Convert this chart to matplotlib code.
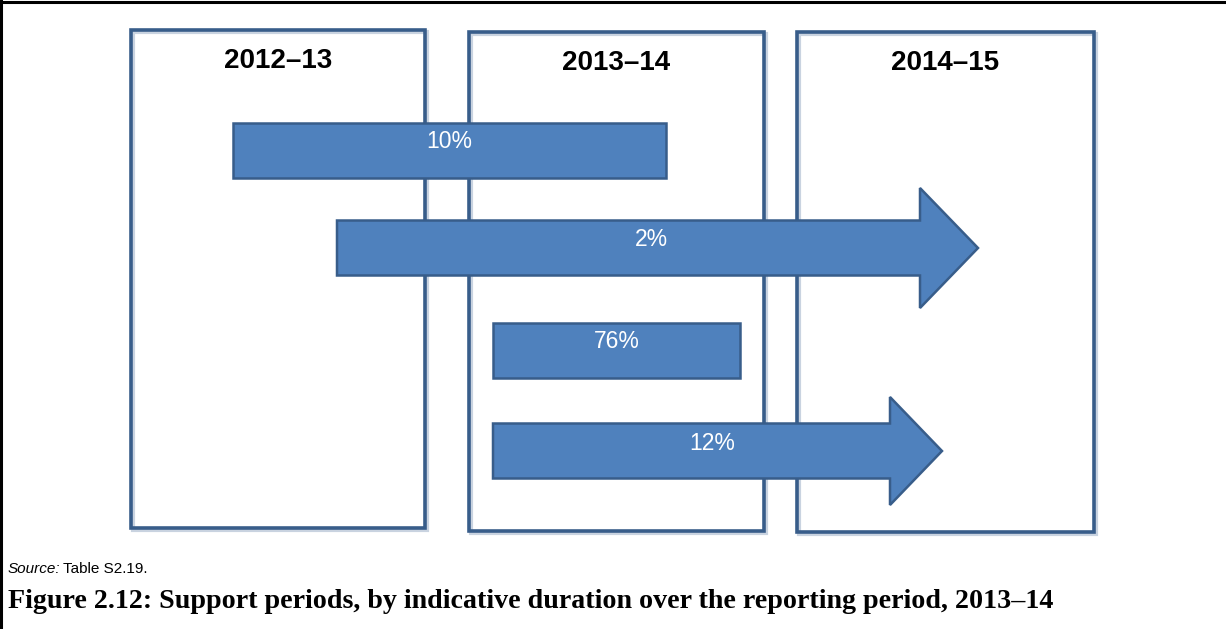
import matplotlib
matplotlib.use("Agg")
import matplotlib.pyplot as plt
from matplotlib.patches import Rectangle
from matplotlib.lines import Line2D

# ---- data ----
periods = ["2012–13", "2013–14", "2014–15"]
bar_labels = ["10%", "2%", "76%", "12%"]
bar_start = [233, 337, 493, 493]      # horizontal start of each support period
bar_end = [666, 978, 740, 942]        # horizontal end (tip for arrows)
bar_is_arrow = [False, True, False, True]
source_note = "Table S2.19."
caption = "Figure 2.12: Support periods, by indicative duration over the reporting period, 2013–14"

# ---- layout ----
W, H = 1226, 629
box_left = [131, 469, 797]
box_right = [425, 764, 1094]
box_top = [30, 32, 32]
box_bottom = [528, 531, 532]
period_label_y = [61, 63, 63]
row_y = [150, 248, 350, 451]
shaft_h = 55
head_h = [0, 120, 0, 108]
head_len = [0, 58, 0, 52]
label_dy = -8

FILL = "#4F81BD"
EDGE = "#385D8A"

fig = plt.figure(figsize=(W / 100, H / 100), dpi=100)
ax = fig.add_axes([0, 0, 1, 1])
ax.set_xlim(0, W)
ax.set_ylim(H, 0)
ax.axis("off")

# period boxes
for i, p in enumerate(periods):
    ax.add_patch(Rectangle((box_left[i] + 2, box_top[i] + 2), box_right[i] - box_left[i],
                           box_bottom[i] - box_top[i], fill=False, ec="#c9d3e0", lw=3, zorder=1))
    ax.add_patch(Rectangle((box_left[i], box_top[i]), box_right[i] - box_left[i],
                           box_bottom[i] - box_top[i], fill=False, ec=EDGE, lw=2.6, zorder=2))
    ax.text((box_left[i] + box_right[i]) / 2, period_label_y[i], p, ha="center", va="center",
            fontsize=20, fontweight="bold", family=["Liberation Sans", "DejaVu Sans"], color="black", zorder=5)

# bars / arrows
for i, lab in enumerate(bar_labels):
    y = row_y[i]
    x0, x1 = bar_start[i], bar_end[i]
    if bar_is_arrow[i]:
        xb = x1 - head_len[i]
        xs = [x0, xb, xb, x1, xb, xb, x0]
        ys = [y - shaft_h / 2, y - shaft_h / 2, y - head_h[i] / 2, y,
              y + head_h[i] / 2, y + shaft_h / 2, y + shaft_h / 2]
        ax.fill(xs, ys, facecolor=FILL, edgecolor=EDGE, lw=1.8, joinstyle="miter", zorder=3)
        lx = (x0 + x1) / 2 - head_len[i] * 0.1
    else:
        ax.barh(y, x1 - x0, left=x0, height=shaft_h, color=FILL, edgecolor=EDGE, lw=1.8, zorder=3)
        lx = (x0 + x1) / 2
    ax.text(lx, y + label_dy, lab, ha="center", va="center", color="white",
            fontsize=16.5, family=["Liberation Sans", "DejaVu Sans"], zorder=4)

# outer frame (top and left)
fig.add_artist(Line2D([0, 1], [1 - 1.5 / H, 1 - 1.5 / H], color="black", lw=2.2, transform=fig.transFigure))
fig.add_artist(Line2D([1.5 / W, 1.5 / W], [0, 1], color="black", lw=2.2, transform=fig.transFigure))

# source and caption
ax.text(8, 569, "Source:", ha="left", va="center", fontsize=11, style="italic",
        family=["Liberation Sans Narrow", "Liberation Sans", "DejaVu Sans"])
ax.text(63, 569, source_note, ha="left", va="center", fontsize=11,
        family=["Liberation Sans Narrow", "Liberation Sans", "DejaVu Sans"])
ax.text(8, 601, caption, ha="left", va="center", fontsize=20.2, fontweight="bold",
        family=["Liberation Serif", "DejaVu Serif"])

fig.savefig("out.png", dpi=100)
